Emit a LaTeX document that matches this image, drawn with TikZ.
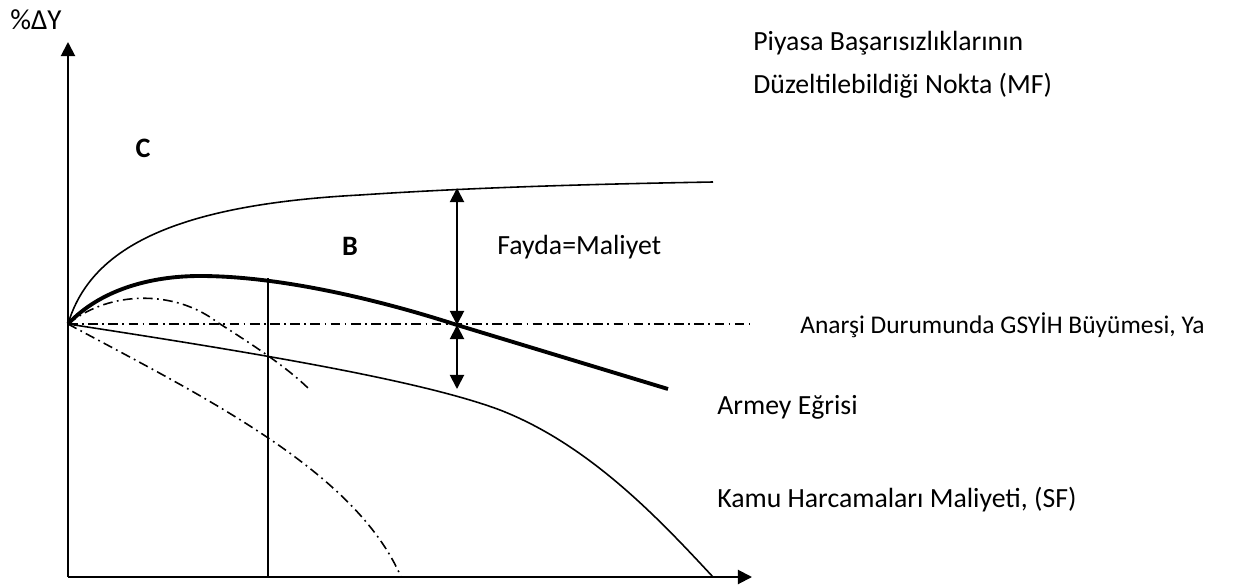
\documentclass[tikz,border=0pt]{standalone}
\usepackage{fontspec}
\setmainfont{Carlito}
\usetikzlibrary{arrows.meta}
\tikzset{
  eksen/.style={line width=1.1pt,-{Triangle[width=8pt,length=8pt]}},
  ciftok/.style={line width=1.1pt,{Triangle[width=8pt,length=8pt]}-{Triangle[width=8pt,length=8pt]}},
  noktali/.style={line width=0.9pt,dash pattern=on 5.5pt off 2.5pt on 1pt off 2.5pt},
  yazi/.style={anchor=west,inner sep=0pt,font=\fontsize{15.8}{18}\selectfont},
  harf/.style={inner sep=0pt,font=\fontsize{16}{18}\selectfont\bfseries}
}
\begin{document}
\begin{tikzpicture}[x=0.02cm,y=-0.02cm,line join=round]
\useasboundingbox (0,0) rectangle (1251,588);
% eksenler
\coordinate (O) at (68,324);
\coordinate (A) at (68,577);
\coordinate (ytop) at (68,42);
\coordinate (xend) at (752,577);
\draw[eksen] (A) -- (ytop);
\draw[eksen] (A) -- (xend);
\node[inner sep=0pt,font=\fontsize{16.5}{19}\selectfont] (dy) at (36,20) {\%ΔY};
% anarsi durumu
\coordinate (yaend) at (750,324);
\draw[noktali] (O) -- (yaend);
% MF egrisi
\coordinate (mfmid) at (360,195);
\coordinate (mfend) at (713,182);
\draw[line width=0.9pt] (O) .. controls (90,250) and (170,205) .. (mfmid)
  .. controls (480,187) and (600,184) .. (mfend);
% Armey egrisi
\coordinate (tepe) at (200,276);
\coordinate (kes) at (457,325);
\coordinate (armeyend) at (668,389);
\draw[line width=2.2pt] (O) .. controls (100,290) and (150,276) .. (tepe)
  .. controls (280,276) and (380,300) .. (kes) -- (armeyend);
% SF egrisi
\coordinate (sfmid) at (500,410);
\coordinate (sfend) at (713,577);
\draw[line width=0.9pt] (O) .. controls (250,352) and (420,380) .. (sfmid)
  .. controls (590,445) and (660,520) .. (sfend);
% noktali egriler
\coordinate (d1) at (217,322);
\coordinate (d1end) at (310,390);
\draw[noktali] (O) .. controls (110,290) and (175,290) .. (d1)
  .. controls (245,340) and (285,365) .. (d1end);
\coordinate (d2end) at (401,577);
\draw[noktali] (O) .. controls (200,395) and (355,470) .. (d2end);
% dikey cizgi
\coordinate (vtop) at (268,278);
\coordinate (vbot) at (268,577);
\draw[line width=1pt] (vtop) -- (vbot);
% oklar
\coordinate (mf) at (457,188);
\coordinate (sf) at (457,389);
\draw[ciftok] (mf) -- (kes);
\draw[ciftok] (kes) -- (sf);
% etiketler
\node[harf] (c) at (143,148) {C};
\node[harf] (b) at (350,246) {B};
\node[yazi] (fm) at (497,247) {Fayda=Maliyet};
\node[yazi] (mf1) at (753,43) {Piyasa Başarısızlıklarının};
\node[yazi] (mf2) at (753,86) {Düzeltilebildiği Nokta (MF)};
\node[yazi,font=\fontsize{14.5}{17}\selectfont] (ya) at (800,325) {Anarşi Durumunda GSYİH Büyümesi, Ya};
\node[yazi] (armey) at (717,407) {Armey Eğrisi};
\node[yazi] (sfy) at (717,500) {Kamu Harcamaları Maliyeti, (SF)};
\end{tikzpicture}
\end{document}
